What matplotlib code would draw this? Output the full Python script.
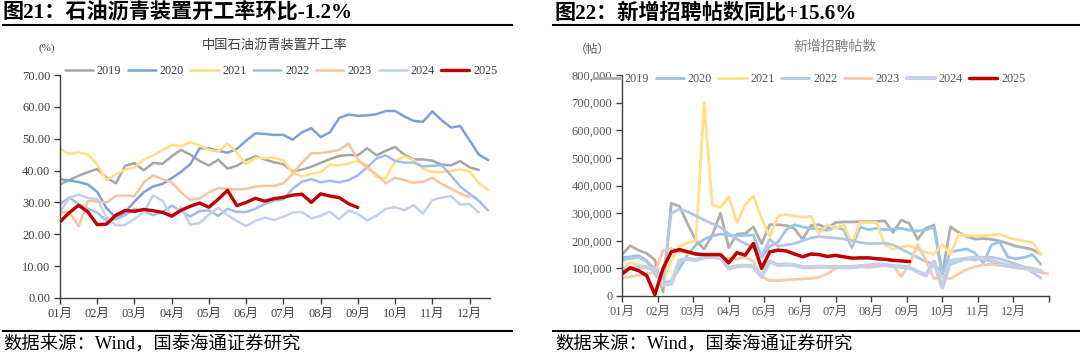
import numpy as np
import matplotlib
matplotlib.use('Agg')
import matplotlib.pyplot as plt
from matplotlib.ticker import FuncFormatter

plt.rcParams['font.family'] = ['Liberation Serif', 'Noto Sans CJK SC']

years = ['2019', '2020', '2021', '2022', '2023', '2024', '2025']
month_labels = ['01月', '02月', '03月', '04月', '05月', '06月',
                '07月', '08月', '09月', '10月', '11月', '12月']

# asphalt plant operating rate (%), one value every quarter month
rate_2019 = [35.7, 37.0, 38.4, 39.5, 40.5, 37.8, 36.0, 41.5, 42.3, 40.1, 42.4, 42.1,
             44.5, 46.5, 45.0, 43.0, 41.6, 43.4, 40.6, 41.5, 43.3, 44.5, 43.5, 42.6,
             42.0, 39.8, 40.3, 41.2, 42.4, 43.6, 44.6, 44.9, 44.8, 47.0, 44.8, 46.2,
             47.4, 45.0, 43.5, 43.5, 43.1, 41.9, 41.6, 43.0, 41.0, 40.2]
rate_2020 = [37.3, 36.9, 36.4, 35.6, 33.3, 28.2, 25.2, 26.9, 30.3, 33.2, 35.0, 35.8,
             37.6, 39.6, 42.0, 47.0, 47.0, 46.2, 45.6, 46.8, 49.4, 51.7, 51.5, 51.2,
             51.2, 49.7, 52.0, 53.3, 50.5, 52.0, 56.5, 57.6, 57.2, 57.3, 57.7, 58.7,
             58.7, 57.0, 55.6, 55.3, 58.6, 55.8, 53.5, 54.0, 49.5, 45.0, 43.3]
rate_2021 = [47.0, 45.2, 45.7, 45.0, 42.0, 37.0, 38.8, 40.3, 41.0, 43.4, 44.8, 46.3,
             48.1, 47.6, 48.9, 47.9, 46.5, 46.0, 48.5, 45.6, 42.0, 44.0, 43.9, 44.0,
             43.2, 39.3, 38.2, 39.0, 39.5, 41.9, 41.6, 42.2, 43.0, 41.7, 38.0, 37.5,
             43.0, 44.5, 43.3, 40.5, 39.6, 39.5, 39.9, 40.4, 39.8, 36.0, 33.9]
rate_2022 = [29.5, 31.5, 29.5, 28.0, 26.8, 24.3, 24.8, 26.0, 28.0, 27.2, 26.0, 27.0,
             29.0, 27.3, 25.6, 27.3, 27.5, 25.8, 28.0, 27.0, 27.0, 28.0, 29.5, 30.5,
             31.0, 34.3, 36.5, 37.3, 36.3, 36.8, 36.3, 37.0, 38.5, 41.0, 43.8, 44.8,
             43.0, 42.5, 42.5, 41.3, 41.5, 41.7, 38.5, 35.0, 32.7, 30.5, 27.5]
rate_2023 = [26.8, 27.0, 22.5, 30.5, 30.3, 30.0, 32.0, 32.2, 32.0, 36.3, 38.5, 37.3,
             36.3, 33.2, 30.8, 31.2, 33.2, 34.5, 34.3, 34.1, 34.2, 35.0, 35.2, 35.2,
             36.0, 39.0, 42.5, 45.4, 45.5, 45.9, 46.5, 48.5, 43.5, 40.8, 38.8, 36.0,
             37.8, 37.0, 36.2, 36.5, 37.8, 35.8, 34.3, 32.8, 31.6]
rate_2024 = [27.0, 31.5, 32.5, 31.4, 31.0, 25.3, 22.8, 23.0, 24.8, 27.0, 32.2, 30.5,
             25.5, 28.5, 23.0, 23.5, 26.2, 28.3, 26.0, 24.2, 22.6, 24.3, 25.2, 24.5,
             25.5, 26.8, 27.0, 25.0, 25.8, 27.1, 24.7, 27.5, 26.4, 24.3, 25.8, 28.0,
             28.5, 27.6, 29.1, 26.5, 30.7, 31.5, 32.0, 29.3, 29.5, 26.8]
rate_2025 = [23.9, 26.8, 29.1, 27.0, 23.0, 23.2, 26.0, 27.5, 27.2, 27.8, 27.4, 26.9,
             25.7, 27.5, 28.8, 29.8, 28.5, 31.0, 33.8, 29.0, 30.0, 31.3, 30.4, 31.2,
             31.6, 32.3, 32.6, 30.0, 32.7, 32.0, 31.5, 29.6, 28.4]

# new job postings, one value per week
posts_2019 = [150, 182, 166, 155, 130, 15, 335, 325, 260, 200, 170, 220, 300, 175,
              224, 226, 250, 190, 258, 258, 255, 244, 205, 255, 258, 245, 266, 268,
              268, 269, 269, 270, 272, 230, 275, 262, 205, 245, 257, 78, 250, 230,
              215, 206, 208, 205, 199, 190, 180, 175, 168, 151]
posts_2020 = [138, 142, 146, 128, 80, 45, 55, 100, 150, 185, 205, 218, 224, 220,
              218, 220, 220, 140, 180, 195, 240, 258, 250, 245, 242, 238, 250, 240,
              175, 250, 240, 245, 240, 242, 245, 238, 235, 240, 248, 80, 160, 165,
              170, 155, 120, 185, 195, 140, 135, 140, 150, 115]
posts_2021 = [98, 122, 112, 106, 95, 55, 130, 180, 192, 200, 700, 330, 320, 360,
              265, 330, 362, 280, 215, 290, 295, 290, 285, 288, 225, 258, 245, 258,
              190, 266, 266, 266, 185, 170, 178, 182, 170, 158, 152, 188, 150, 224,
              218, 218, 218, 220, 224, 212, 205, 198, 194, 150]
posts_2022 = [130, 135, 140, 125, 100, 60, 300, 314, 305, 290, 275, 262, 248, 225,
              205, 190, 175, 145, 205, 180, 185, 190, 200, 210, 215, 212, 210, 206,
              200, 194, 190, 190, 192, 185, 170, 155, 140, 125, 115, 85, 115, 125,
              135, 130, 140, 140, 135, 125, 115, 105, 85, 65]
posts_2023 = [65, 70, 75, 82, 85, 165, 172, 160, 155, 150, 146, 143, 140, 136,
              134, 142, 125, 70, 56, 56, 58, 60, 62, 64, 68, 80, 100, 105,
              108, 106, 103, 106, 110, 112, 70, 115, 185, 130, 62, 70, 62, 80,
              97, 105, 113, 115, 110, 107, 103, 98, 92, 85, 80]
posts_2024 = [98, 100, 104, 104, 95, 40, 45, 128, 134, 130, 140, 142, 138, 100,
              108, 110, 107, 70, 125, 112, 114, 112, 104, 104, 106, 105, 105, 104,
              104, 108, 110, 114, 112, 108, 106, 103, 88, 75, 125, 30, 127, 132,
              135, 139, 135, 127, 118, 110, 105, 103, 98, 90]
posts_2025 = [80, 102, 92, 74, 5, 100, 160, 168, 160, 152, 150, 150, 150, 120,
              157, 148, 190, 100, 160, 166, 163, 152, 142, 152, 150, 143, 147, 142,
              137, 138, 138, 135, 133, 129, 127, 125]

rate_series = [rate_2019, rate_2020, rate_2021, rate_2022, rate_2023, rate_2024, rate_2025]
post_series = [posts_2019, posts_2020, posts_2021, posts_2022, posts_2023, posts_2024, posts_2025]

left_colors = ['#A6A6A6', '#7F9FDB', '#FFDF80', '#A4BDE8', '#F8C3A2', '#C3D1EC', '#C00000']
left_widths = [1.8, 1.8, 1.8, 1.8, 1.8, 1.8, 2.4]
right_colors = ['#AFAFAF', '#9DC3E6', '#FFE08A', '#B4C7E7', '#F8CBAD', '#C5D0E6', '#C00000']
right_widths = [2.0, 2.0, 2.0, 2.0, 2.0, 3.0, 2.5]

W, H = 1080, 363
fig = plt.figure(figsize=(10.8, 3.63), dpi=100)


def fx(px):
    return px / W


def fy(py):
    return 1 - py / H


# headers and footers
fig.text(fx(3), fy(13), '图21：石油沥青装置开工率环比-1.2%', fontsize=15.2,
         fontweight='bold', va='center', ha='left')
fig.text(fx(555), fy(13), '图22：新增招聘帖数同比+15.6%', fontsize=15.2,
         fontweight='bold', va='center', ha='left')
for x0, x1 in [(3, 512), (553, 1080)]:
    fig.add_artist(plt.Line2D([fx(x0), fx(x1)], [fy(25), fy(25)], color='black', lw=1.5))
    fig.add_artist(plt.Line2D([fx(x0), fx(x1)], [fy(331), fy(331)], color='black', lw=1.5))
fig.text(fx(3), fy(345), '数据来源：Wind，国泰海通证券研究', fontsize=13.2, va='center', ha='left')
fig.text(fx(555), fy(345), '数据来源：Wind，国泰海通证券研究', fontsize=13.2, va='center', ha='left')

# left chart
ax1 = fig.add_axes([fx(60), fy(298), fx(490 - 60), (298 - 75) / H])
for i, vals in enumerate(rate_series):
    x = np.arange(len(vals)) * 0.25
    ax1.plot(x, vals, color=left_colors[i], lw=left_widths[i], label=years[i],
             solid_joinstyle='round', solid_capstyle='round')
ax1.set_xlim(0, 11.55)
ax1.set_ylim(0, 70)
ax1.set_yticks(np.arange(0, 71, 10))
ax1.yaxis.set_major_formatter(FuncFormatter(lambda v, p: '%.2f' % v))
ax1.set_xticks(np.arange(12))
ax1.set_xticklabels(month_labels)
ax1.text(0.5, (75 - 45) / 223 + 1, '中国石油沥青装置开工率', transform=ax1.transAxes,
         ha='center', va='center', fontsize=9.5, color='#404040')
ax1.text(-0.03, (75 - 48) / 223 + 1, '(%)', transform=ax1.transAxes,
         ha='center', va='center', fontsize=8, color='#404040')
ax1.legend(loc='center', bbox_to_anchor=((281 - 60) / 430, 1 + 4 / 223), ncol=7,
           frameon=False, fontsize=8.8, handlelength=2.3, handletextpad=0.3,
           columnspacing=0.55, labelcolor='#404040')

# right chart
ax2 = fig.add_axes([fx(622), fy(296), fx(1049 - 622), (296 - 75) / H])
for i, vals in enumerate(post_series):
    x = np.arange(len(vals)) * 12 / 52
    ax2.plot(x, np.array(vals) * 1000, color=right_colors[i], lw=right_widths[i],
             label=years[i], solid_joinstyle='round', solid_capstyle='round')
ax2.set_xlim(0, 12)
ax2.set_ylim(0, 800000)
ax2.set_yticks(np.arange(0, 800001, 100000))
ax2.yaxis.set_major_formatter(FuncFormatter(lambda v, p: '{:,.0f}'.format(v)))
ax2.set_xticks(np.arange(13))
ax2.set_xticklabels(month_labels + [''])
ax2.text(0.5, 1 + (75 - 47) / 221, '新增招聘帖数', transform=ax2.transAxes,
         ha='center', va='center', fontsize=10, color='#808080')
ax2.text(-0.07, 1 + (75 - 50) / 221, '（帖）', transform=ax2.transAxes,
         ha='center', va='center', fontsize=8.5, color='#595959')
ax2.legend(loc='center', bbox_to_anchor=((809 - 622) / 427, 1 - 4 / 221), ncol=7,
           frameon=False, fontsize=8.8, handlelength=2.3, handletextpad=0.3,
           columnspacing=0.55, labelcolor='#595959')

for ax, c in [(ax1, '#404040'), (ax2, '#595959')]:
    for s in ['top', 'right']:
        ax.spines[s].set_visible(False)
    for s in ['left', 'bottom']:
        ax.spines[s].set_color('#404040')
        ax.spines[s].set_linewidth(1.0)
    ax.tick_params(direction='out', length=4, width=1, color='#404040',
                   labelsize=9, labelcolor=c, pad=3)

fig.savefig('out.png', dpi=100)
